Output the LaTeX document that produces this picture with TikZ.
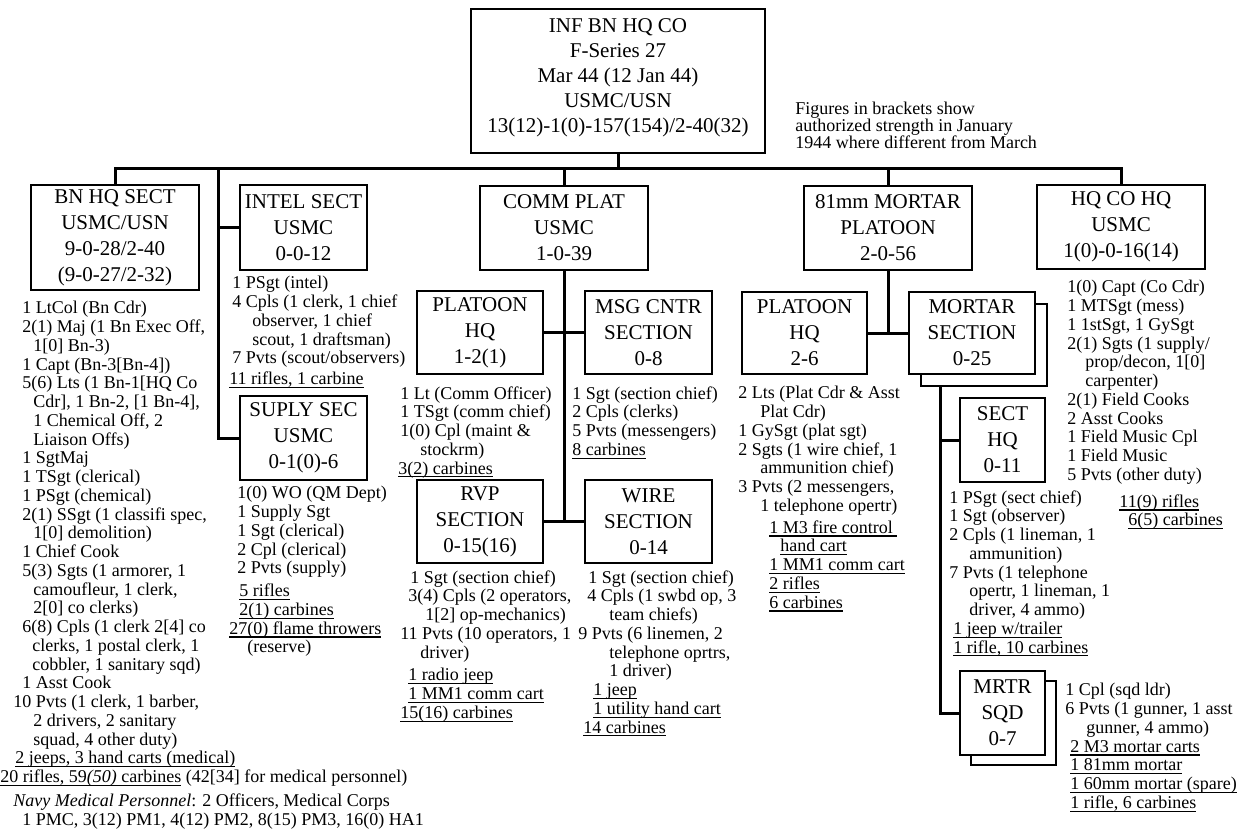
\documentclass[tikz,border=0pt]{standalone}
\usepackage{fontspec}
\setmainfont{Liberation Serif}
\newcommand\indx[1]{\hspace*{#1\dimexpr0.5pt\relax}}
\newcommand\tightls{\lineskiplimit-100pt\relax\lineskip0pt\relax}
\newsavebox\ulbox
\newcommand\ul[1]{\sbox\ulbox{#1}\rlap{\rule[-1.7pt]{\wd\ulbox}{0.55pt}}\usebox\ulbox}
\begin{document}
\begin{tikzpicture}[x=0.5pt,y=-0.5pt,
  box/.style={draw, line width=1.4pt, fill=white, align=center, inner sep=0pt,
    font={\fontsize{10.5}{13}\selectfont\tightls}},
  lst/.style={anchor=north west, align=left, inner sep=0pt,
    font={\fontsize{9}{9.375}\selectfont\tightls}},
  note/.style={anchor=north west, align=left, inner sep=0pt,
    font={\fontsize{9}{8.3}\selectfont\tightls}},
  conn/.style={line width=1.5pt}]
\useasboundingbox (0,0) rectangle (1246,829);
\fill[white] (0,0) rectangle (1246,829);

% ---------- boxes ----------
\node[box, minimum width=147pt, minimum height=72pt] (top) at (618,81) {};
\node[align=center, inner sep=0pt, font={\fontsize{10.5}{12.5}\selectfont}] (toptxt) at (618,78)
  {INF BN HQ CO\\F-Series 27\\Mar 44 (12 Jan 44)\\USMC/USN\\13(12)-1(0)-157(154)/2-40(32)};

\node[box, minimum width=84pt, minimum height=52.5pt] (bnhq) at (115,237.5)
  {BN HQ SECT\\USMC/USN\\9-0-28/2-40\\(9-0-27/2-32)};
\node[box, minimum width=63.5pt, minimum height=42.5pt] (intel) at (303.5,227.5)
  {INTEL SECT\\USMC\\0-0-12};
\node[box, minimum width=63.5pt, minimum height=42pt] (suply) at (303.5,438)
  {SUPLY SEC\\USMC\\0-1(0)-6};
\node[box, minimum width=84pt, minimum height=42pt] (comm) at (564,228)
  {COMM PLAT\\USMC\\1-0-39};
\node[box, minimum width=63pt, minimum height=41.5pt] (cphq) at (480,332.5)
  {PLATOON\\HQ\\1-2(1)};
\node[box, minimum width=63.5pt, minimum height=41.5pt] (msg) at (648.5,332.5)
  {MSG CNTR\\SECTION\\0-8};
\node[box, minimum width=63pt, minimum height=41.5pt] (rvp) at (480,521.5)
  {RVP\\SECTION\\0-15(16)};
\node[box, minimum width=63.5pt, minimum height=41.5pt] (wire) at (648.5,521.5)
  {WIRE\\SECTION\\0-14};
\node[box, minimum width=84pt, minimum height=42pt] (mort) at (888,228)
  {81mm MORTAR\\PLATOON\\2-0-56};
\node[box, minimum width=62.5pt, minimum height=41pt] (mphq) at (804.5,333)
  {PLATOON\\HQ\\2-6};
\node[box, minimum width=63pt, minimum height=41pt] (msecsh) at (984,345) {};
\node[box, minimum width=63pt, minimum height=41pt] (msec) at (972,333)
  {MORTAR\\SECTION\\0-25};
\node[box, minimum width=84pt, minimum height=42pt] (hqco) at (1121,227)
  {HQ CO HQ\\USMC\\1(0)-0-16(14)};
\node[box, minimum width=42.5pt, minimum height=42pt] (secthq) at (1002.5,440)
  {SECT\\HQ\\0-11};
\node[box, minimum width=42.5pt, minimum height=42pt] (sqdsh) at (1013.5,723) {};
\node[box, minimum width=42.5pt, minimum height=42pt] (sqd) at (1002.5,713)
  {MRTR\\SQD\\0-7};

% ---------- connectors ----------
\coordinate (bus) at (618,168);
\coordinate (lbus) at (218,168);
\coordinate (mspine) at (940,386);
\draw[conn] (bnhq.north) -- (bnhq.north |- bus) -- (hqco.north |- bus) -- (hqco.north);
\draw[conn] (top.south) -- (top.south |- bus);
\draw[conn] (comm.north) -- (comm.north |- bus);
\draw[conn] (mort.north) -- (mort.north |- bus);
\draw[conn] (lbus) -- (lbus |- suply.west) -- (suply.west);
\draw[conn] (lbus |- intel.west) -- (intel.west);
\draw[conn] (comm.south) -- (comm.south |- rvp.east);
\draw[conn] (cphq.east) -- (msg.west);
\draw[conn] (rvp.east) -- (wire.west);
\draw[conn] (mort.south) -- (mort.south |- mphq.east);
\draw[conn] (mphq.east) -- (msec.west);
\draw[conn] (mspine) -- (mspine |- sqd.west) -- (sqd.west);
\draw[conn] (mspine |- secthq.west) -- (secthq.west);

% ---------- note ----------
\node[note] (noteA) at (795,102)
  {Figures in brackets show\\authorized strength in January\\1944 where different from March};

% ---------- lists ----------
\node[lst] (bnhqlist) at (0,301) {%
\indx{22}1 LtCol (Bn Cdr)\\
\indx{22}2(1) Maj (1 Bn Exec Off,\\
\indx{33}1[0] Bn-3)\\
\indx{22}1 Capt (Bn-3[Bn-4])\\
\indx{22}5(6) Lts (1 Bn-1[HQ Co\\
\indx{33}Cdr], 1 Bn-2, [1 Bn-4],\\
\indx{33}1 Chemical Off, 2\\
\indx{33}Liaison Offs)\\
\indx{22}1 SgtMaj\\
\indx{22}1 TSgt (clerical)\\
\indx{22}1 PSgt (chemical)\\
\indx{22}2(1) SSgt (1 classifi spec,\\
\indx{33}1[0] demolition)\\
\indx{22}1 Chief Cook\\
\indx{22}5(3) Sgts (1 armorer, 1\\
\indx{33}camoufleur, 1 clerk,\\
\indx{33}2[0] co clerks)\\
\indx{22}6(8) Cpls (1 clerk 2[4] co\\
\indx{32}clerks, 1 postal clerk, 1\\
\indx{32}cobbler, 1 sanitary sqd)\\
\indx{22}1 Asst Cook\\
\indx{13}10 Pvts (1 clerk, 1 barber,\\
\indx{33}2 drivers, 2 sanitary\\
\indx{33}squad, 4 other duty)\\
\indx{15}\ul{2 jeeps, 3 hand carts (medical)}\\
\indx{0}\ul{20 rifles, 59\textit{(50)} carbines} (42[34] for medical personnel)\\[2.5pt]
\indx{13}\textit{Navy Medical Personnel}: 2 Officers, Medical Corps\\
\indx{22}1 PMC, 3(12) PM1, 4(12) PM2, 8(15) PM3, 16(0) HA1};

\node[lst] (intellist) at (229,276) {%
\indx{3}1 PSgt (intel)\\
\indx{3}4 Cpls (1 clerk, 1 chief\\
\indx{23}observer, 1 chief\\
\indx{23}scout, 1 draftsman)\\
\indx{3}7 Pvts (scout/observers)\\[1pt]
\indx{0}\ul{11 rifles, 1 carbine}};

\node[lst] (suplylist) at (229,486) {%
\indx{8}1(0) WO (QM Dept)\\
\indx{8}1 Supply Sgt\\
\indx{8}1 Sgt (clerical)\\
\indx{8}2 Cpl (clerical)\\
\indx{8}2 Pvts (supply)\\[2pt]
\indx{10}\ul{5 rifles}\\
\indx{10}\ul{2(1) carbines}\\
\indx{0}\ul{27(0) flame throwers}\\
\indx{18}(reserve)};

\node[lst] (cphqlist) at (398,386) {%
\indx{2}1 Lt (Comm Officer)\\
\indx{2}1 TSgt (comm chief)\\
\indx{2}1(0) Cpl (maint \&\\
\indx{22}stockrm)\\
\indx{0}\ul{3(2) carbines}};

\node[lst] (msglist) at (572,386) {%
1 Sgt (section chief)\\
2 Cpls (clerks)\\
5 Pvts (messengers)\\
\ul{8 carbines}};

\node[lst] (rvplist) at (400,570) {%
\indx{10}1 Sgt (section chief)\\
\indx{8}3(4) Cpls (2 operators,\\
\indx{25}1[2] op-mechanics)\\
\indx{0}11 Pvts (10 operators, 1\\
\indx{20}driver)\\[2pt]
\indx{8}\ul{1 radio jeep}\\
\indx{8}\ul{1 MM1 comm cart}\\
\indx{0}\ul{15(16) carbines}};

\node[lst] (wirelist) at (578,570) {%
\indx{10}1 Sgt (section chief)\\
\indx{9}4 Cpls (1 swbd op, 3\\
\indx{31}team chiefs)\\
\indx{0}9 Pvts (6 linemen, 2\\
\indx{31}telephone oprtrs,\\
\indx{31}1 driver)\\
\indx{15}\ul{1 jeep}\\
\indx{15}\ul{1 utility hand cart}\\
\indx{5}\ul{14 carbines}};

\node[lst] (mphqlist) at (738,386) {%
\indx{0}2 Lts (Plat Cdr \& Asst\\
\indx{22}Plat Cdr)\\
\indx{0}1 GySgt (plat sgt)\\
\indx{0}2 Sgts (1 wire chief, 1\\
\indx{22}ammunition chief)\\
\indx{0}3 Pvts (2 messengers,\\
\indx{22}1 telephone opertr)\\[1.5pt]
\indx{31}\ul{1 M3 fire control\ }\\
\indx{42}\ul{hand cart}\\
\indx{31}\ul{1 MM1 comm cart}\\
\indx{31}\ul{2 rifles}\\
\indx{31}\ul{6 carbines}};

\node[lst] (secthqlist) at (949,490) {%
\indx{0}1 PSgt (sect chief)\\
\indx{0}1 Sgt (observer)\\
\indx{0}2 Cpls (1 lineman, 1\\
\indx{20}ammunition)\\
\indx{0}7 Pvts (1 telephone\\
\indx{20}opertr, 1 lineman, 1\\
\indx{20}driver, 4 ammo)\\
\indx{4}\ul{1 jeep w/trailer}\\
\indx{4}\ul{1 rifle, 10 carbines}};

\node[lst] (sqdlist) at (1065,683) {%
\indx{0}1 Cpl (sqd ldr)\\
\indx{0}6 Pvts (1 gunner, 1 asst\\
\indx{21}gunner, 4 ammo)\\
\indx{5}\ul{2 M3 mortar carts}\\
\indx{5}\ul{1 81mm mortar}\\
\indx{5}\ul{1 60mm mortar (spare)}\\
\indx{5}\ul{1 rifle, 6 carbines}};

\node[lst] (hqcolist) at (1067,280) {%
\indx{0}1(0) Capt (Co Cdr)\\
\indx{0}1 MTSgt (mess)\\
\indx{0}1 1stSgt, 1 GySgt\\
\indx{0}2(1) Sgts (1 supply/\\
\indx{18}prop/decon, 1[0]\\
\indx{18}carpenter)\\
\indx{0}2(1) Field Cooks\\
\indx{0}2 Asst Cooks\\
\indx{0}1 Field Music Cpl\\
\indx{0}1 Field Music\\
\indx{0}5 Pvts (other duty)\\[4pt]
\indx{52}\ul{11(9) rifles}\\
\indx{61}\ul{6(5) carbines}};
\end{tikzpicture}
\end{document}
